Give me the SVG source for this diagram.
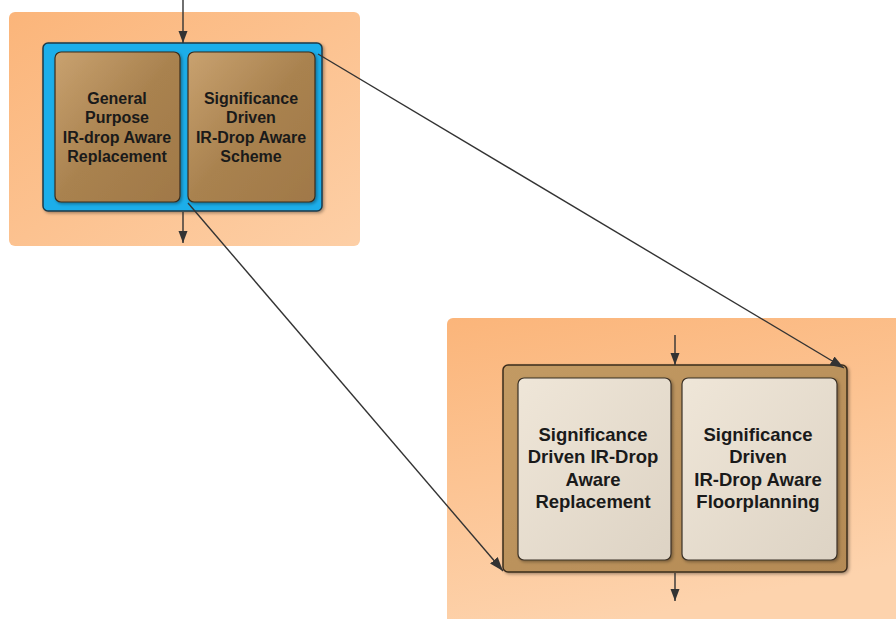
<svg xmlns="http://www.w3.org/2000/svg" width="896" height="619" viewBox="0 0 896 619">
<style>
.t{font-family:"Liberation Sans",Arial,sans-serif;font-weight:bold;text-anchor:middle;fill:#1a1a1a}
.s{font-size:16px}
.b{font-size:18.5px}
.c{stroke:#333;stroke-width:1.4;fill:none}
</style>
<defs>
<linearGradient id="og" x1="0" y1="0" x2="1" y2="1">
<stop offset="0" stop-color="#fbb57a"/>
<stop offset="1" stop-color="#fdcfa6"/>
</linearGradient>
<linearGradient id="og2" x1="0" y1="0" x2="0.3" y2="1">
<stop offset="0" stop-color="#fbb57a"/>
<stop offset="1" stop-color="#fdd3ad"/>
</linearGradient>
<linearGradient id="bg" x1="0" y1="0" x2="1" y2="1">
<stop offset="0" stop-color="#c9a270"/>
<stop offset="0.5" stop-color="#a9824f"/>
<stop offset="1" stop-color="#a07848"/>
</linearGradient>
<linearGradient id="fg" x1="0" y1="0" x2="1" y2="1">
<stop offset="0" stop-color="#c29a63"/>
<stop offset="1" stop-color="#b48a55"/>
</linearGradient>
<linearGradient id="lg" x1="0" y1="0" x2="1" y2="1">
<stop offset="0" stop-color="#efe6d8"/>
<stop offset="1" stop-color="#ddd3c4"/>
</linearGradient>
<filter id="sh" x="-10%" y="-10%" width="120%" height="120%">
<feDropShadow dx="1.5" dy="1.5" stdDeviation="1.5" flood-color="#000" flood-opacity="0.35"/>
</filter>
<marker id="ah" viewBox="0 0 12 10" refX="12" refY="5" markerWidth="12" markerHeight="10" markerUnits="userSpaceOnUse" orient="auto">
<path d="M0,0.5 L12,5 L0,9.5 z" fill="#333"/>
</marker>
<marker id="ahl" viewBox="0 0 14 10" refX="14" refY="5" markerWidth="14" markerHeight="10" markerUnits="userSpaceOnUse" orient="auto">
<path d="M0,0 L14,5 L0,10 z" fill="#333"/>
</marker>
</defs>
<rect width="896" height="619" fill="#fff"/>

<g id="panel-top">
<rect x="9" y="12" width="351" height="234" rx="6" fill="url(#og)"/>
</g>
<g id="panel-bottom">
<rect x="447" y="318" width="460" height="310" rx="6" fill="url(#og2)"/>
</g>

<g id="group-top">
<rect x="43" y="43" width="279" height="168" rx="5" fill="#1aaeea" stroke="#1d3a4a" stroke-width="1.5" filter="url(#sh)"/>
</g>
<g id="node-general">
<rect x="55" y="52" width="125" height="150" rx="6" fill="url(#bg)" stroke="#3a2c1c" stroke-width="1.2" filter="url(#sh)"/>
<text class="t s" x="117" y="104">General</text>
<text class="t s" x="117" y="123">Purpose</text>
<text class="t s" x="117" y="143">IR-drop Aware</text>
<text class="t s" x="117" y="162">Replacement</text>
</g>
<g id="node-scheme">
<rect x="188" y="52" width="127" height="150" rx="6" fill="url(#bg)" stroke="#3a2c1c" stroke-width="1.2" filter="url(#sh)"/>
<text class="t s" x="251" y="104">Significance</text>
<text class="t s" x="251" y="123">Driven</text>
<text class="t s" x="251" y="143">IR-Drop Aware</text>
<text class="t s" x="251" y="162">Scheme</text>
</g>

<g id="group-bottom">
<rect x="503" y="365" width="344" height="207" rx="5" fill="url(#fg)" stroke="#3a2c1c" stroke-width="1.5" filter="url(#sh)"/>
</g>
<g id="node-replacement">
<rect x="518" y="378" width="153" height="182" rx="6" fill="url(#lg)" stroke="#3a3026" stroke-width="1.2" filter="url(#sh)"/>
<text class="t b" x="593" y="441">Significance</text>
<text class="t b" x="593" y="463">Driven IR-Drop</text>
<text class="t b" x="593" y="486">Aware</text>
<text class="t b" x="593" y="508">Replacement</text>
</g>
<g id="node-floorplanning">
<rect x="682" y="378" width="155" height="182" rx="6" fill="url(#lg)" stroke="#3a3026" stroke-width="1.2" filter="url(#sh)"/>
<text class="t b" x="758" y="441">Significance</text>
<text class="t b" x="758" y="463">Driven</text>
<text class="t b" x="758" y="486">IR-Drop Aware</text>
<text class="t b" x="758" y="508">Floorplanning</text>
</g>

<g id="connectors">
<line class="c" x1="183" y1="0" x2="183" y2="43" marker-end="url(#ah)"/>
<line class="c" x1="183" y1="212" x2="183" y2="243" marker-end="url(#ah)"/>
<line class="c" x1="675" y1="335" x2="675" y2="365" marker-end="url(#ah)"/>
<line class="c" x1="675" y1="573" x2="675" y2="601" marker-end="url(#ah)"/>
<line class="c" x1="318" y1="54" x2="844" y2="368" marker-end="url(#ahl)"/>
<line class="c" x1="188" y1="203" x2="503" y2="571" marker-end="url(#ahl)"/>
</g>
</svg>
